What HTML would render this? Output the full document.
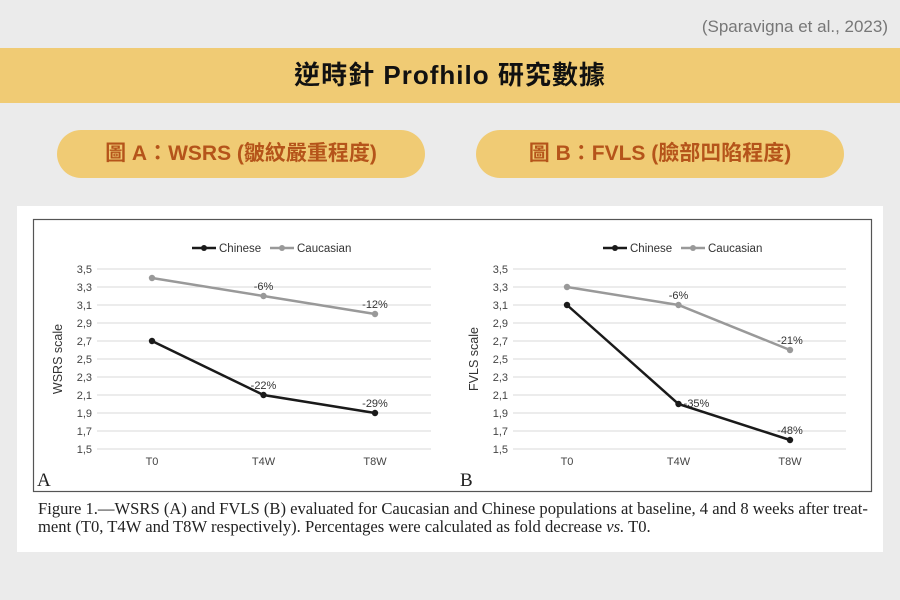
<!DOCTYPE html>
<html><head><meta charset="utf-8">
<style>
body{margin:0;width:900px;height:600px;background:#ebebeb;position:relative;overflow:hidden;font-family:"Liberation Sans","Noto Sans CJK TC",sans-serif}
.src{position:absolute;right:12px;top:17px;font-size:17px;color:#777}
.banner{position:absolute;left:0;top:48px;width:900px;height:55px;background:#f0cb74;text-align:center;line-height:55px;font-size:26px;font-weight:bold;color:#111;letter-spacing:1px}
.pill{position:absolute;top:130px;height:48px;width:368px;border-radius:24px;background:#f0cb74;color:#b5541a;font-weight:bold;font-size:21px;text-align:center;line-height:48px}
.panel{position:absolute;left:17px;top:206px;width:866px;height:346px;background:#fff}
.cap{position:absolute;left:38px;top:500px;font-family:"Liberation Serif",serif;font-size:16.6px;line-height:18px;color:#222;white-space:nowrap}
svg{position:absolute;left:0;top:0}
</style></head><body>
<div class="src">(Sparavigna et al., 2023)</div>
<div class="banner">逆時針 Profhilo 研究數據</div>
<div class="pill" style="left:57px">圖 A：WSRS (皺紋嚴重程度)</div>
<div class="pill" style="left:476px">圖 B：FVLS (臉部凹陷程度)</div>
<div class="panel"></div>
<div class="cap">Figure 1.—WSRS (A) and FVLS (B) evaluated for Caucasian and Chinese populations at baseline, 4 and 8 weeks after treat-<br>ment (T0, T4W and T8W respectively). Percentages were calculated as fold decrease <i>vs.</i> T0.</div>
<svg id="chart" width="900" height="600"></svg>
<script>
const categories=["T0","T4W","T8W"];
const yTicks=[1.5,1.7,1.9,2.1,2.3,2.5,2.7,2.9,3.1,3.3,3.5];
const wsrsChinese=[2.7,2.1,1.9];
const wsrsCaucasian=[3.4,3.2,3.0];
const wsrsChineseLabels=["","-22%","-29%"];
const wsrsCaucasianLabels=["","-6%","-12%"];
const fvlsChinese=[3.1,2.0,1.6];
const fvlsCaucasian=[3.3,3.1,2.6];
const fvlsChineseLabels=["","-35%","-48%"];
const fvlsCaucasianLabels=["","-6%","-21%"];

const svg=document.getElementById('chart');
const NS='http://www.w3.org/2000/svg';
function mk(t,a,txt){const e=document.createElementNS(NS,t);for(const k in a)e.setAttribute(k,a[k]);if(txt!==undefined)e.textContent=txt;svg.appendChild(e);return e;}
const frame=mk('rect',{x:33.5,y:219.5,width:838,height:272,fill:'none',stroke:'#555','stroke-width':1.2});



function drawChart(o){
  const y=v=>449-(v-1.5)/2*180;
  const x=i=>o.cx0+i*o.step;
  yTicks.forEach(t=>{
    const g=mk('line',{x1:o.gx0,x2:o.gx1,y1:y(t),y2:y(t),stroke:'#d9d9d9','stroke-width':1});
    
    
    const l=mk('text',{x:o.tickX,y:y(t)+4,'text-anchor':'end','font-size':11,fill:'#444'},t.toFixed(1).replace('.',','));
    
    
  });
  categories.forEach((c,i)=>{
    const l=mk('text',{x:x(i),y:465,'text-anchor':'middle','font-size':11,fill:'#444'},c);
    
    
  });
  const yt=mk('text',{x:0,y:0,transform:`translate(${o.tickX-30},${359}) rotate(-90)`,'text-anchor':'middle','font-size':12.5,fill:'#333'},o.title);
  
  
  const series=[[o.cau,'#999',o.cauL,'caucasian'],[o.chi,'#1a1a1a',o.chiL,'chinese']];
  series.forEach(([vals,col,labs,nm])=>{
    const p=mk('polyline',{points:vals.map((v,i)=>x(i)+','+y(v)).join(' '),fill:'none',stroke:col,'stroke-width':2.5});
    
    
    vals.forEach((v,i)=>{
      const c=mk('circle',{cx:x(i),cy:y(v),r:3.2,fill:col});
      
      
      if(labs[i]){
        const dx=(o.labelShift&&nm==='chinese'&&i===1)?18:0;
        const dy=(o.labelShift&&nm==='chinese'&&i===1)?3:-6;
        const t=mk('text',{x:x(i)+dx,y:y(v)+dy,'text-anchor':'middle','font-size':11,fill:'#333'},labs[i]);
        
        
      }
    });
  });
  const lx=o.legX;
  const l1=mk('line',{x1:lx,x2:lx+24,y1:248,y2:248,stroke:'#1a1a1a','stroke-width':2.5});
  
  
  mk('circle',{cx:lx+12,cy:248,r:3,fill:'#1a1a1a'});
  const t1=mk('text',{x:lx+27,y:252,'font-size':11.5,fill:'#333'},'Chinese');
  
  
  const l2=mk('line',{x1:lx+78,x2:lx+102,y1:248,y2:248,stroke:'#999','stroke-width':2.5});
  
  
  mk('circle',{cx:lx+90,cy:248,r:3,fill:'#999'});
  const t2=mk('text',{x:lx+105,y:252,'font-size':11.5,fill:'#333'},'Caucasian');
  
  
  const pl=mk('text',{x:o.panelX,y:486,'font-family':'Liberation Serif,serif','font-size':19,fill:'#222'},o.panel);
  
  
}
drawChart({cx0:152,step:111.5,gx0:97,gx1:431,tickX:92,title:'WSRS scale',chi:wsrsChinese,cau:wsrsCaucasian,chiL:wsrsChineseLabels,cauL:wsrsCaucasianLabels,legX:192,panel:'A',panelX:37,labelShift:false});
drawChart({cx0:567,step:111.5,gx0:513,gx1:846,tickX:508,title:'FVLS scale',chi:fvlsChinese,cau:fvlsCaucasian,chiL:fvlsChineseLabels,cauL:fvlsCaucasianLabels,legX:603,panel:'B',panelX:460,labelShift:true});
</script>
</body></html>
